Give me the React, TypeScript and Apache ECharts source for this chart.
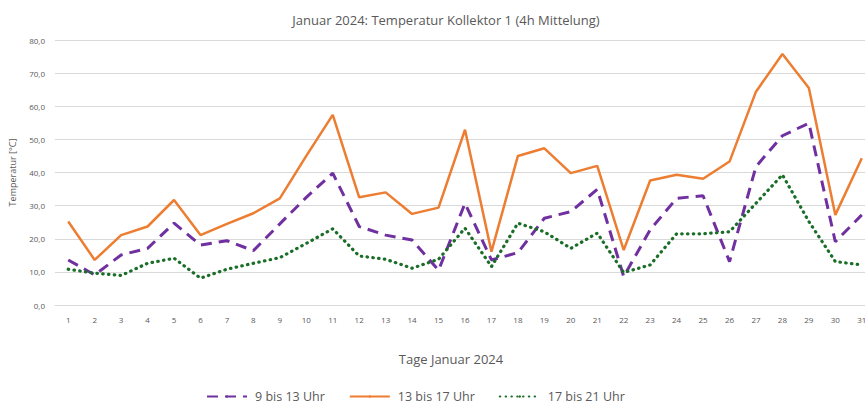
import React, { useEffect, useRef } from "react";
import * as echarts from "echarts";

const days = Array.from({ length: 31 }, (_, i) => String(i + 1));
const seriesNames = ["9 bis 13 Uhr", "13 bis 17 Uhr", "17 bis 21 Uhr"];
const vals9to13 = [13.6, 9.1, 15.1, 17.1, 24.7, 18.1, 19.4, 16.4, 24.5, 32.5, 39.8, 23.7, 21.1, 19.6, 10.5, 30.7, 13.6, 15.8, 26.2, 28.2, 34.9, 8.6, 22.7, 32.2, 33.0, 13.1, 41.8, 51.1, 54.9, 19.1, 27.2];
const vals13to17 = [25.2, 13.6, 21.1, 23.7, 31.7, 21.1, 24.5, 27.7, 32.2, 45.0, 57.4, 32.5, 34.0, 27.5, 29.4, 52.9, 16.1, 45.0, 47.3, 39.8, 42.0, 16.6, 37.6, 39.3, 38.1, 43.3, 64.4, 75.8, 65.5, 27.2, 44.3];
const vals17to21 = [10.8, 9.6, 8.9, 12.6, 14.1, 8.1, 10.8, 12.6, 14.3, 18.6, 23.0, 14.8, 13.8, 11.1, 13.8, 23.2, 11.6, 24.7, 22.1, 17.1, 21.7, 9.8, 12.1, 21.5, 21.5, 22.1, 30.7, 39.3, 25.2, 13.1, 12.1];

const FONT = "'Open Sans', 'Noto Sans', sans-serif";

export default function App() {
  const ref = useRef<HTMLDivElement>(null);
  useEffect(() => {
    if (!ref.current) return;
    const chart = echarts.init(ref.current, undefined, { renderer: "svg" });
    chart.setOption({
      animation: false,
      backgroundColor: "#ffffff",
      title: {
        text: "Januar 2024: Temperatur Kollektor 1 (4h Mittelung)",
        left: 441,
        top: 8,
        textAlign: "center",
        textStyle: { fontFamily: FONT, fontSize: 13, fontWeight: "normal", color: "#595959" },
      },
      legend: {
        left: 206,
        top: 390,
        itemWidth: 40,
        itemHeight: 3,
        itemGap: 24,
        padding: 0,
        textStyle: { fontFamily: FONT, fontSize: 12.5, color: "#595959", padding: [0, 0, 0, 3] },
        data: seriesNames,
      },
      grid: { left: 54, right: 5, top: 40, bottom: 99, containLabel: false },
      xAxis: {
        type: "category",
        data: days,
        boundaryGap: true,
        axisLine: { show: true, lineStyle: { color: "#d9d9d9" } },
        axisTick: { show: false },
        axisLabel: { fontFamily: FONT, fontSize: 8, color: "#595959", margin: 10 },
        name: "Tage Januar 2024",
        nameLocation: "middle",
        nameGap: 47,
        nameTextStyle: { fontFamily: FONT, fontSize: 13, color: "#595959", padding: [0, 28, 0, 0] },
      },
      yAxis: {
        type: "value",
        min: 0,
        max: 80,
        interval: 10,
        axisLine: { show: false },
        axisTick: { show: false },
        splitLine: { lineStyle: { color: "#d9d9d9", width: 1 } },
        axisLabel: {
          fontFamily: FONT,
          fontSize: 8,
          color: "#595959",
          margin: 10,
          formatter: (v: number) => v.toFixed(1).replace(".", ","),
        },
        name: "Temperatur [°C]",
        nameLocation: "middle",
        nameGap: 38,
        nameTextStyle: { fontFamily: FONT, fontSize: 9, color: "#595959" },
      },
      series: [
        {
          name: seriesNames[0],
          type: "line",
          data: vals9to13,
          symbol: "none",
          lineStyle: { color: "#7030A0", width: 3, type: [11, 7] },
          itemStyle: { color: "#7030A0" },
        },
        {
          name: seriesNames[1],
          type: "line",
          data: vals13to17,
          symbol: "none",
          lineStyle: { color: "#ED7D31", width: 2.5, type: "solid" },
          itemStyle: { color: "#ED7D31" },
        },
        {
          name: seriesNames[2],
          type: "line",
          data: vals17to21,
          symbol: "none",
          lineStyle: { color: "#1a6e28", width: 3.2, type: [0.5, 5.3], cap: "round" },
          itemStyle: { color: "#1a6e28" },
        },
      ],
    });
    return () => chart.dispose();
  }, []);
  return (
    <div style={{ position: "fixed", left: 0, top: 0, width: 865, height: 404, overflow: "hidden", background: "#fff" }}>
      <div ref={ref} style={{ width: 880, height: 404 }} />
    </div>
  );
}
